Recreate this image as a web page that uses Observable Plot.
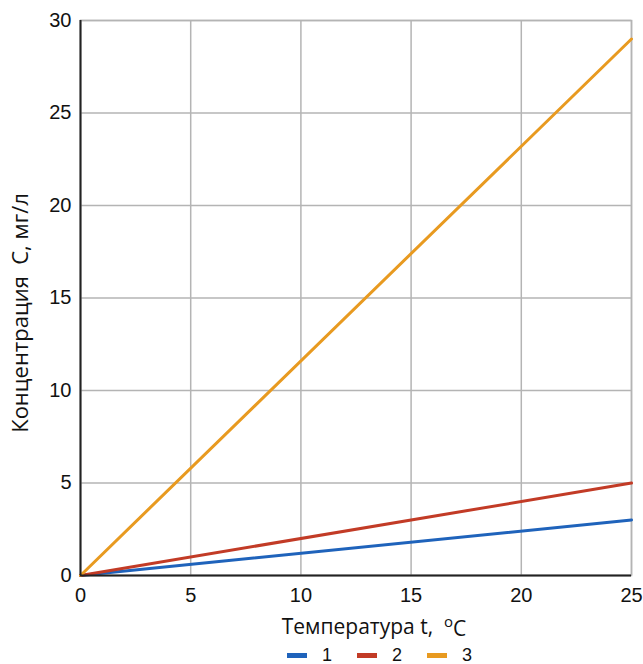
<!DOCTYPE html>
<html>
<head>
<meta charset="utf-8">
<script src="https://cdn.jsdelivr.net/npm/d3@7"></script>
<script src="https://cdn.jsdelivr.net/npm/@observablehq/plot@0.6"></script>
<style>
  body { margin: 0; background: #fff; font-family: "Liberation Sans", Arial, sans-serif; overflow: hidden; }
  #legend { display: flex; position: absolute; top: 646px; left: 287px; font-size: 18px; line-height: 18px; color: #111; }
  .item { display: flex; align-items: center; width: 70px; }
  .sw { width: 20px; height: 5px; margin-right: 15px; }
</style>
</head>
<body>
<div id="chart"></div>
<div id="legend"></div>
<script>
const temperature = [0, 25];
const seriesNames = ["1", "2", "3"];
const series1 = [0, 3];
const series2 = [0, 5];
const series3 = [0, 29];
const colors = ["#1f63bb", "#c23b26", "#e89a20"];
const xTicks = [0, 5, 10, 15, 20, 25];
const yTicks = [0, 5, 10, 15, 20, 25, 30];
const xLabel = "Температура t,  ";
const yLabel = "Концентрация  С, мг/л";

const data = [];
[series1, series2, series3].forEach((vals, i) => {
  vals.forEach((v, j) => data.push({series: seriesNames[i], t: temperature[j], c: v}));
});

const chart = Plot.plot({
  width: 643,
  height: 642,
  marginLeft: 80,
  marginTop: 20,
  marginRight: 12,
  marginBottom: 67,
  style: {fontFamily: "Liberation Sans, Arial, sans-serif", fontSize: "20px", color: "#111"},
  x: {domain: [0, 25], ticks: xTicks, label: null},
  y: {domain: [0, 30], ticks: yTicks, label: null},
  color: {domain: seriesNames, range: colors},
  marks: [
    Plot.gridX(xTicks, {stroke: "#b4b4b4", strokeOpacity: 1, strokeWidth: 1.5}),
    Plot.gridY(yTicks, {stroke: "#b4b4b4", strokeOpacity: 1, strokeWidth: 1.5}),
    Plot.frame({stroke: "#b4b4b4", strokeWidth: 1.5}),
    Plot.axisX({ticks: xTicks, tickSize: 0, tickPadding: 12, fontSize: 20, label: null}),
    Plot.axisY({ticks: yTicks, tickSize: 0, tickPadding: 9, fontSize: 20, label: null}),
    Plot.line(data, {x: "t", y: "c", z: "series", stroke: "series", strokeWidth: 3}),
    Plot.ruleX([0], {stroke: "#222", strokeWidth: 2}),
    Plot.ruleY([0], {stroke: "#222", strokeWidth: 2}),
    Plot.text([xLabel], {frameAnchor: "bottom", dy: 58, dx: 18, fontSize: 21, fontFamily: "Open Sans, sans-serif", fill: "#111", className: "xlabel"}),
    Plot.text([yLabel], {frameAnchor: "left", textAnchor: "middle", dx: -60, dy: 15, rotate: -90, fontSize: 22, fontFamily: "Open Sans, sans-serif", fill: "#111"})
  ]
});
document.getElementById("chart").appendChild(chart);

// Superscript degree part of the x label
const xl = d3.select(chart).select("g.xlabel text");
xl.append("tspan").attr("dy", "-0.45em").attr("font-size", 15).text("o");
xl.append("tspan").attr("dy", "0.45em").text("C");

const legend = d3.select("#legend");
seriesNames.forEach((name, i) => {
  const item = legend.append("div").attr("class", "item");
  item.append("div").attr("class", "sw").style("background", colors[i]);
  item.append("span").text(name);
});
</script>
</body>
</html>
